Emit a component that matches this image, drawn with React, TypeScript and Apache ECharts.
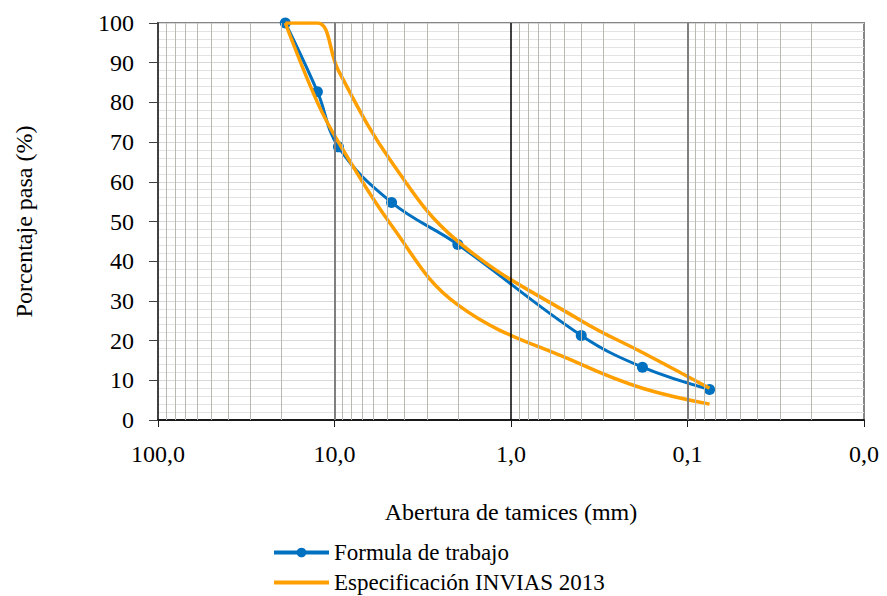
import React, { useEffect, useRef } from "react";
import * as echarts from "echarts";

// Sieve openings (mm) and percentages passing
const sieves = [19, 12.5, 9.5, 4.75, 2.0, 0.4, 0.18, 0.075];
const workFormula = [100, 82.7, 68.8, 54.8, 44.2, 21.3, 13.3, 7.7];
const specUpper = [100, 100, 88, 65, 45, 25, 17, 8];
const specLower = [100, 80, 70, 49, 29, 14, 8, 4];

// Log-axis grid: decade lines and the 2..9 lines inside each decade
const decadeLines = [10, 1, 0.1];
const decadeStarts = [10, 1, 0.1, 0.01];
const minorSteps = [2, 3, 4, 5, 6, 7, 8, 9];

const FONT = "Liberation Serif";
const BLUE = "#0070c0";
const ORANGE = "#ff9f00";

const pairs = (ys: number[]) => sieves.map((x, i) => [x, ys[i]]);

export default function App() {
  const ref = useRef<HTMLDivElement>(null);

  useEffect(() => {
    if (!ref.current) return;
    const chart = echarts.init(ref.current, undefined, { renderer: "svg" });

    const minorVals: number[] = [];
    decadeStarts.forEach((d) => minorSteps.forEach((m) => minorVals.push(+(m * d).toPrecision(3))));

    const gridMarks = [
      ...minorVals.map((v) => ({ xAxis: v, lineStyle: { color: "#b9b9b1", width: 1, type: "solid" } })),
      ...decadeLines.map((v) => ({
        xAxis: v,
        lineStyle: { color: v === 1 ? "#000000" : "#7f7f7f", width: v === 1 ? 1.5 : 2, type: "solid" },
      })),
    ];

    chart.setOption({
      animation: false,
      backgroundColor: "#ffffff",
      grid: {
        left: 158,
        right: 23,
        top: 23,
        height: 397,
        show: true,
        borderColor: "#868686",
        borderWidth: 2,
      },
      legend: {
        orient: "vertical",
        left: 272,
        top: 541,
        padding: 0,
        itemGap: 7,
        itemWidth: 55,
        itemHeight: 12,
        data: [
          { name: "Formula de trabajo", lineStyle: { width: 4 } },
          { name: "Especificación INVIAS 2013", lineStyle: { width: 4 }, itemStyle: { opacity: 0 } },
        ],
        textStyle: { fontFamily: FONT, fontSize: 23, lineHeight: 23, color: "#000" },
      },
      xAxis: {
        type: "log",
        logBase: 10,
        min: 0.01,
        max: 100,
        inverse: true,
        name: "Abertura de tamices (mm)",
        nameLocation: "middle",
        nameGap: 80,
        nameTextStyle: { fontFamily: FONT, fontSize: 24, color: "#000" },
        axisLine: { show: true, lineStyle: { color: "#1a1a1a", width: 2 } },
        axisTick: { show: true, length: 7, lineStyle: { color: "#1a1a1a", width: 1 } },
        axisLabel: {
          margin: 22,
          fontFamily: FONT,
          fontSize: 24,
          color: "#000",
          formatter: (v: number) => v.toFixed(1).replace(".", ","),
        },
        splitLine: { show: false },
      },
      yAxis: {
        type: "value",
        min: 0,
        max: 100,
        interval: 10,
        name: "Porcentaje pasa (%)",
        nameLocation: "middle",
        nameGap: 122,
        nameTextStyle: { fontFamily: FONT, fontSize: 24, color: "#000" },
        axisLine: { show: true, lineStyle: { color: "#404040", width: 2 } },
        axisTick: { show: true, length: 9, lineStyle: { color: "#404040", width: 1 } },
        axisLabel: { margin: 24, fontFamily: FONT, fontSize: 24, color: "#000" },
        splitLine: { show: true, lineStyle: { color: "#d9d9d9", width: 1 } },
        minorTick: { show: false, splitNumber: 5 },
        minorSplitLine: { show: true, lineStyle: { color: "#e3e3e3", width: 1 } },
      },
      series: [
        {
          name: "grid",
          type: "line",
          data: [],
          silent: true,
          z: 1,
          markLine: {
            silent: true,
            symbol: "none",
            label: { show: false },
            emphasis: { disabled: true },
            data: gridMarks,
          },
        },
        {
          name: "Formula de trabajo",
          type: "line",
          data: pairs(workFormula),
          smooth: 0.4,
          symbol: "circle",
          symbolSize: 11,
          z: 3,
          itemStyle: { color: BLUE },
          lineStyle: { color: BLUE, width: 3 },
        },
        {
          name: "Especificación INVIAS 2013",
          type: "line",
          data: pairs(specUpper),
          smooth: 0.4,
          showSymbol: false,
          symbol: "none",
          z: 4,
          itemStyle: { color: ORANGE },
          lineStyle: { color: ORANGE, width: 3.5 },
        },
        {
          name: "Especificación INVIAS 2013",
          type: "line",
          data: pairs(specLower),
          smooth: 0.4,
          showSymbol: false,
          symbol: "none",
          z: 4,
          itemStyle: { color: ORANGE },
          lineStyle: { color: ORANGE, width: 3.5 },
        },
      ],
    });

    return () => chart.dispose();
  }, []);

  return <div ref={ref} style={{ width: 887, height: 596, position: "absolute", left: 0, top: 0 }} />;
}
